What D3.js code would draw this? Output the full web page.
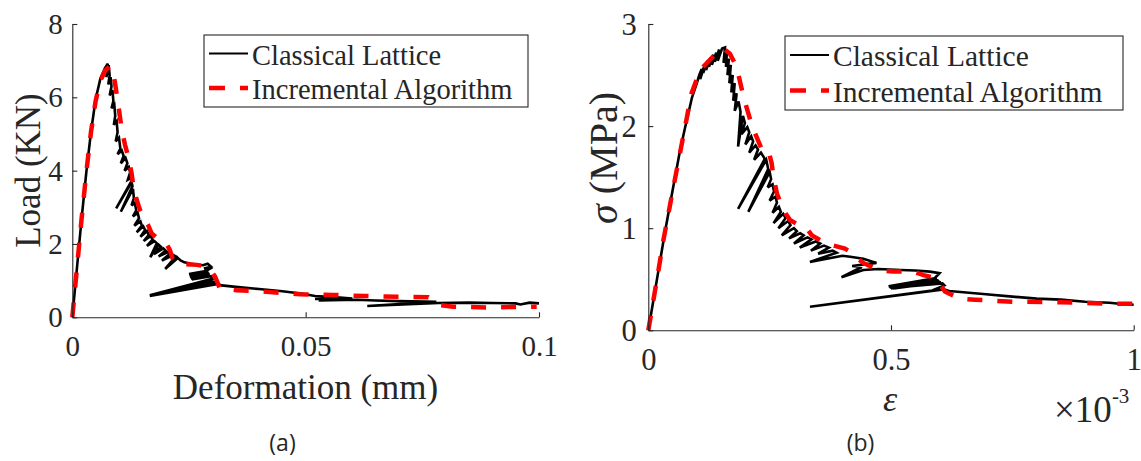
<!DOCTYPE html>
<html>
<head>
<meta charset="utf-8">
<script src="https://cdn.jsdelivr.net/npm/d3@7"></script>
<style>
  html, body { margin: 0; padding: 0; background: #fff; }
  svg { display: block; }
  text { fill: #262626; }
</style>
</head>
<body>
<svg id="fig" width="1141" height="461"></svg>
<script>
// ---------- (a) load vs deformation ----------
const deformTicks = [0, 0.05, 0.1];
const deformTickLabels = ["0", "0.05", "0.1"];
const loadTicks = [0, 2, 4, 6, 8];
const loadTickLabels = ["0", "2", "4", "6", "8"];

// Classical lattice: snap-back path (deformation in mm, load in kN)
const deformClassic = [
  0, 0.001, 0.002, 0.003, 0.004, 0.005, 0.006, 0.007, 0.0076,
  0.0073, 0.0078, 0.0080, 0.0077, 0.0082, 0.0084, 0.0080, 0.0086, 0.0088, 0.0084,
  0.0090, 0.0092, 0.0089, 0.0095, 0.0097, 0.0093, 0.0100, 0.0103, 0.0097, 0.0106,
  0.0110, 0.0104, 0.0114, 0.0118, 0.0112, 0.0121, 0.0124, 0.0119, 0.0126, 0.0127,
  0.0094, 0.0127, 0.0129, 0.0104, 0.0130, 0.0132, 0.0127, 0.0134, 0.0137, 0.0130,
  0.0140, 0.0143, 0.0133, 0.0146, 0.0149, 0.0138, 0.0152, 0.0156, 0.0146, 0.0160,
  0.0164, 0.0153, 0.0168, 0.0172, 0.0160, 0.0176, 0.0181, 0.0167, 0.0185, 0.0190,
  0.0175, 0.0195, 0.0200, 0.0185, 0.0205, 0.0210, 0.0192, 0.0216, 0.0222, 0.0199,
  0.0226, 0.0232, 0.0240, 0.0255, 0.0268, 0.0280, 0.0290, 0.0297, 0.0282, 0.0300,
  0.0286, 0.0250, 0.0291, 0.0251, 0.0292, 0.0252, 0.0294, 0.0254, 0.0295, 0.0256,
  0.0297, 0.0300, 0.0290, 0.0166, 0.0300, 0.0310, 0.0166, 0.0312, 0.0320, 0.0350,
  0.0400, 0.0450, 0.0490, 0.0520, 0.0560, 0.0600, 0.0520, 0.0590, 0.0528, 0.0610,
  0.0650, 0.0700, 0.0780, 0.0632, 0.0785, 0.0850, 0.0900, 0.0950, 0.0960, 0.0980,
  0.1000
];
const loadClassic = [
  0, 1.35, 2.7, 3.95, 5.05, 5.95, 6.5, 6.8, 6.92,
  6.55, 6.88, 6.6, 6.35, 6.55, 6.3, 6.05, 6.2, 5.9, 5.7,
  5.8, 5.5, 5.25, 5.35, 5.05, 4.8, 4.9, 4.6, 4.45, 4.55,
  4.4, 4.2, 4.35, 4.2, 4.0, 4.1, 3.95, 3.75, 3.8, 3.72,
  2.97, 3.68, 3.58, 2.88, 3.5, 3.25, 3.05, 3.12, 2.92, 2.75,
  2.85, 2.7, 2.5, 2.62, 2.5, 2.32, 2.48, 2.38, 2.2, 2.35,
  2.25, 2.08, 2.22, 2.12, 1.95, 2.08, 2.02, 1.64, 1.98, 1.92,
  1.72, 1.88, 1.82, 1.66, 1.78, 1.74, 1.55, 1.70, 1.66, 1.32,
  1.62, 1.55, 1.5, 1.46, 1.43, 1.42, 1.46, 1.38, 1.33, 1.36,
  1.26, 1.18, 1.25, 1.14, 1.22, 1.10, 1.19, 1.06, 1.15, 1.03,
  1.12, 1.05, 1.02, 0.60, 0.98, 0.93, 0.58, 0.91, 0.87, 0.83,
  0.77, 0.71, 0.65, 0.58, 0.55, 0.51, 0.50, 0.50, 0.46, 0.48,
  0.46, 0.44, 0.42, 0.31, 0.39, 0.40, 0.39, 0.38, 0.35, 0.40,
  0.38
];

// Incremental algorithm
const deformIncr = [
  0, 0.001, 0.002, 0.003, 0.004, 0.005, 0.006, 0.007, 0.008, 0.0086,
  0.0092, 0.0099, 0.0106, 0.0113, 0.0120, 0.0127, 0.0131, 0.0138, 0.0145, 0.0156,
  0.0163, 0.0170, 0.0180, 0.0195, 0.0202, 0.0209, 0.0215, 0.0224, 0.0245, 0.0267,
  0.0281, 0.0295, 0.0306, 0.0316, 0.0352, 0.0388, 0.0488, 0.0559, 0.0627, 0.0695,
  0.0763, 0.0775, 0.0788, 0.0816, 0.0888, 0.0995
];
const loadIncr = [
  0, 1.35, 2.7, 3.95, 5.05, 5.9, 6.45, 6.72, 6.84, 6.8,
  6.35, 5.75, 5.11, 4.7, 4.38, 3.93, 3.56, 3.2, 2.93, 2.65,
  2.5, 2.29, 2.18, 2.06, 2.0, 1.84, 1.6, 1.47, 1.45, 1.43,
  1.40, 1.3, 1.11, 0.79, 0.74, 0.72, 0.63, 0.61, 0.58, 0.56,
  0.545, 0.45, 0.335, 0.29, 0.27, 0.29
];

// ---------- (b) stress vs strain ----------
const strainTicks = [0, 0.5, 1];
const strainTickLabels = ["0", "0.5", "1"];
const stressTicks = [0, 1, 2, 3];
const stressTickLabels = ["0", "1", "2", "3"];

// strain in units of 1e-3, stress in MPa
const strainClassic = [
  0, 0.01, 0.02, 0.035, 0.052, 0.065, 0.075, 0.09, 0.1, 0.105,
  0.110, 0.107, 0.116, 0.113, 0.122, 0.119, 0.128, 0.125, 0.134, 0.131,
  0.140, 0.137, 0.146, 0.143, 0.152, 0.158, 0.155, 0.162, 0.160, 0.166,
  0.163, 0.170, 0.167, 0.174, 0.171, 0.178, 0.175, 0.182, 0.178, 0.186,
  0.190, 0.185, 0.195, 0.199, 0.192, 0.204, 0.208, 0.200, 0.212, 0.216,
  0.208, 0.221, 0.226, 0.218, 0.232, 0.240, 0.185, 0.243, 0.247, 0.206,
  0.250, 0.253, 0.246, 0.256, 0.259, 0.250, 0.262, 0.265, 0.256, 0.269,
  0.273, 0.258, 0.278, 0.283, 0.268, 0.288, 0.293, 0.275, 0.300, 0.306,
  0.290, 0.313, 0.320, 0.300, 0.328, 0.336, 0.312, 0.345, 0.354, 0.335,
  0.362, 0.372, 0.350, 0.380, 0.388, 0.333, 0.400, 0.416, 0.443, 0.470,
  0.420, 0.440, 0.398, 0.443, 0.474, 0.520, 0.550, 0.580, 0.600, 0.590,
  0.495, 0.595, 0.497, 0.598, 0.500, 0.600, 0.505, 0.603, 0.510, 0.606,
  0.610, 0.585, 0.333, 0.600, 0.610, 0.620, 0.690, 0.750, 0.800, 0.850,
  0.900, 0.950, 0.980, 1.000
];
const stressClassic = [
  0, 0.28, 0.56, 0.98, 1.42, 1.75, 1.97, 2.28, 2.42, 2.5,
  2.56, 2.46, 2.6, 2.52, 2.64, 2.55, 2.67, 2.58, 2.7, 2.6,
  2.72, 2.63, 2.75, 2.64, 2.76, 2.77, 2.62, 2.73, 2.58, 2.66,
  2.5, 2.6, 2.42, 2.5, 2.33, 2.42, 2.25, 2.32, 2.15, 2.24,
  2.14, 1.80, 2.1, 2.03, 1.92, 1.99, 1.94, 1.82, 1.9, 1.85,
  1.74, 1.81, 1.77, 1.67, 1.74, 1.68, 1.19, 1.67, 1.58, 1.16,
  1.55, 1.48, 1.40, 1.43, 1.36, 1.27, 1.31, 1.25, 1.15, 1.21,
  1.16, 1.05, 1.14, 1.10, 1.0, 1.07, 1.03, 0.93, 1.0, 0.97,
  0.9, 0.95, 0.93, 0.85, 0.91, 0.89, 0.81, 0.87, 0.85, 0.78,
  0.83, 0.81, 0.75, 0.78, 0.76, 0.67, 0.73, 0.72, 0.70, 0.66,
  0.63, 0.62, 0.52, 0.59, 0.60, 0.59, 0.585, 0.575, 0.56, 0.51,
  0.43, 0.50, 0.42, 0.49, 0.41, 0.48, 0.41, 0.47, 0.42, 0.46,
  0.44, 0.39, 0.23, 0.395, 0.40, 0.385, 0.355, 0.33, 0.31, 0.30,
  0.28, 0.27, 0.255, 0.25
];

const strainIncr = [
  0, 0.01, 0.02, 0.031, 0.052, 0.072, 0.089, 0.107, 0.127, 0.144,
  0.155, 0.168, 0.182, 0.196, 0.210, 0.220, 0.234, 0.247, 0.254, 0.258,
  0.265, 0.278, 0.292, 0.310, 0.326, 0.337, 0.355, 0.374, 0.405, 0.420,
  0.429, 0.443, 0.474, 0.505, 0.546, 0.567, 0.585, 0.597, 0.611, 0.642,
  0.673, 0.750, 0.850, 0.950, 1.000
];
const stressIncr = [
  0, 0.28, 0.56, 0.88, 1.41, 1.9, 2.32, 2.55, 2.65, 2.73,
  2.76, 2.71, 2.58, 2.29, 2.06, 1.93, 1.77, 1.77, 1.64, 1.5,
  1.34, 1.18, 1.08, 1.03, 1.0, 0.93, 0.88, 0.84, 0.80, 0.76,
  0.71, 0.66, 0.59, 0.575, 0.575, 0.54, 0.52, 0.48, 0.38, 0.31,
  0.30, 0.28, 0.275, 0.26, 0.26
];

const seriesNames = ["Classical Lattice", "Incremental Algorithm"];

// ---------- drawing ----------
const svg = d3.select("#fig");
const axisColor = "#262626";
const serif = "'Liberation Serif', 'Times New Roman', serif";

function zip(xs, ys) { return xs.map((v, i) => [v, ys[i]]); }

function panel(cfg) {
  const x = d3.scaleLinear().domain(cfg.xDomain).range(cfg.xRange);
  const y = d3.scaleLinear().domain(cfg.yDomain).range(cfg.yRange);
  const g = svg.append("g");

  const line = d3.line().x(d => x(d[0])).y(d => y(d[1]));

  // Classical lattice (solid black)
  g.append("path")
    .datum(zip(cfg.classic[0], cfg.classic[1]))
    .attr("d", line)
    .attr("fill", "none")
    .attr("stroke", "#000")
    .attr("stroke-width", 2.6)
    .attr("stroke-linejoin", "miter")
    .attr("stroke-miterlimit", 3);

  // Incremental algorithm (red dashed)
  g.append("path")
    .datum(zip(cfg.incr[0], cfg.incr[1]))
    .attr("d", line)
    .attr("fill", "none")
    .attr("stroke", "#ff0000")
    .attr("stroke-width", 4.5)
    .attr("stroke-dasharray", "15 15");

  // axes: inward ticks, no box
  const xAxis = d3.axisBottom(x)
    .tickValues(cfg.xTicks)
    .tickFormat((d, i) => cfg.xTickLabels[i])
    .tickSizeInner(-5).tickSizeOuter(0);
  const yAxis = d3.axisLeft(y)
    .tickValues(cfg.yTicks)
    .tickFormat((d, i) => cfg.yTickLabels[i])
    .tickSizeInner(-5).tickSizeOuter(0);

  const gx = g.append("g").attr("transform", `translate(0,${cfg.yRange[0]})`).call(xAxis);
  const gy = g.append("g").attr("transform", `translate(${cfg.xRange[0]},0)`).call(yAxis);
  [gx, gy].forEach(a => {
    a.select(".domain").attr("stroke", axisColor).attr("stroke-width", 1.1);
    a.selectAll(".tick line").attr("stroke", axisColor).attr("stroke-width", 1.1);
    a.selectAll(".tick text")
      .attr("font-family", serif)
      .attr("font-size", cfg.tickFont)
      .attr("fill", axisColor);
  });
  gx.selectAll(".tick text").attr("y", cfg.xLabelOffset).attr("dy", 0);
  gy.selectAll(".tick text").attr("x", -cfg.yLabelGap).attr("dy", "0.33em");

  // legend
  const L = cfg.legend;
  g.append("rect")
    .attr("x", L.x).attr("y", L.y).attr("width", L.w).attr("height", L.h)
    .attr("fill", "#fff").attr("stroke", axisColor).attr("stroke-width", 1.1);
  g.append("line")
    .attr("x1", L.x + 5).attr("x2", L.x + 44)
    .attr("y1", L.row1 - 11).attr("y2", L.row1 - 11)
    .attr("stroke", "#000").attr("stroke-width", 2.2);
  g.append("line")
    .attr("x1", L.x + 5).attr("x2", L.x + 44)
    .attr("y1", L.row2 - 11).attr("y2", L.row2 - 11)
    .attr("stroke", "#ff0000").attr("stroke-width", 4.5)
    .attr("stroke-dasharray", "16 15");
  seriesNames.forEach((name, i) => {
    g.append("text")
      .attr("x", L.x + 48).attr("y", i === 0 ? L.row1 : L.row2)
      .attr("font-family", serif).attr("font-size", L.font)
      .text(name);
  });

  return { g, x, y };
}

panel({
  xDomain: [0, 0.1], xRange: [72.3, 539],
  yDomain: [0, 8], yRange: [317.3, 24],
  xTicks: deformTicks, xTickLabels: deformTickLabels,
  yTicks: loadTicks, yTickLabels: loadTickLabels,
  classic: [deformClassic, loadClassic],
  incr: [deformIncr, loadIncr],
  tickFont: 29, xLabelOffset: 39, yLabelGap: 9.5,
  legend: { x: 204, y: 35, w: 324, h: 72, row1: 64.5, row2: 99, font: 28.5 }
});

panel({
  xDomain: [0, 1], xRange: [648.3, 1133.7],
  yDomain: [0, 3], yRange: [330.3, 24],
  xTicks: strainTicks, xTickLabels: strainTickLabels,
  yTicks: stressTicks, yTickLabels: stressTickLabels,
  classic: [strainClassic, stressClassic],
  incr: [strainIncr, stressIncr],
  tickFont: 30.5, xLabelOffset: 40, yLabelGap: 11.5,
  legend: { x: 785, y: 36, w: 338, h: 74, row1: 66, row2: 101.5, font: 29.5 }
});

// axis titles
svg.append("text")
  .attr("x", 305.5).attr("y", 399)
  .attr("text-anchor", "middle")
  .attr("font-family", serif).attr("font-size", 35)
  .text("Deformation (mm)");

svg.append("text")
  .attr("transform", "translate(40,170.5) rotate(-90)")
  .attr("text-anchor", "middle")
  .attr("font-family", serif).attr("font-size", 35)
  .text("Load (KN)");

const sig = svg.append("text")
  .attr("transform", "translate(617,158) rotate(-90)")
  .attr("text-anchor", "middle")
  .attr("font-family", serif).attr("font-size", 40);
sig.append("tspan").attr("font-style", "italic").text("σ");
sig.append("tspan").text(" (MPa)");

svg.append("text")
  .attr("x", 890).attr("y", 411)
  .attr("text-anchor", "middle")
  .attr("font-family", serif).attr("font-size", 36)
  .attr("font-style", "italic")
  .text("ε");

// exponent multiplier for the strain axis
const mult = svg.append("text")
  .attr("x", 1054).attr("y", 421.5)
  .attr("font-family", serif).attr("font-size", 37);
mult.append("tspan").text("×10");
mult.append("tspan").attr("font-size", 21).attr("dy", -19).text("-3");

// panel captions
const sans = "'Open Sans', 'Liberation Sans', sans-serif";
svg.append("text")
  .attr("x", 282.5).attr("y", 451)
  .attr("text-anchor", "middle")
  .attr("font-family", sans).attr("font-size", 23)
  .text("(a)");
svg.append("text")
  .attr("x", 860.5).attr("y", 451)
  .attr("text-anchor", "middle")
  .attr("font-family", sans).attr("font-size", 23)
  .text("(b)");
</script>
</body>
</html>
